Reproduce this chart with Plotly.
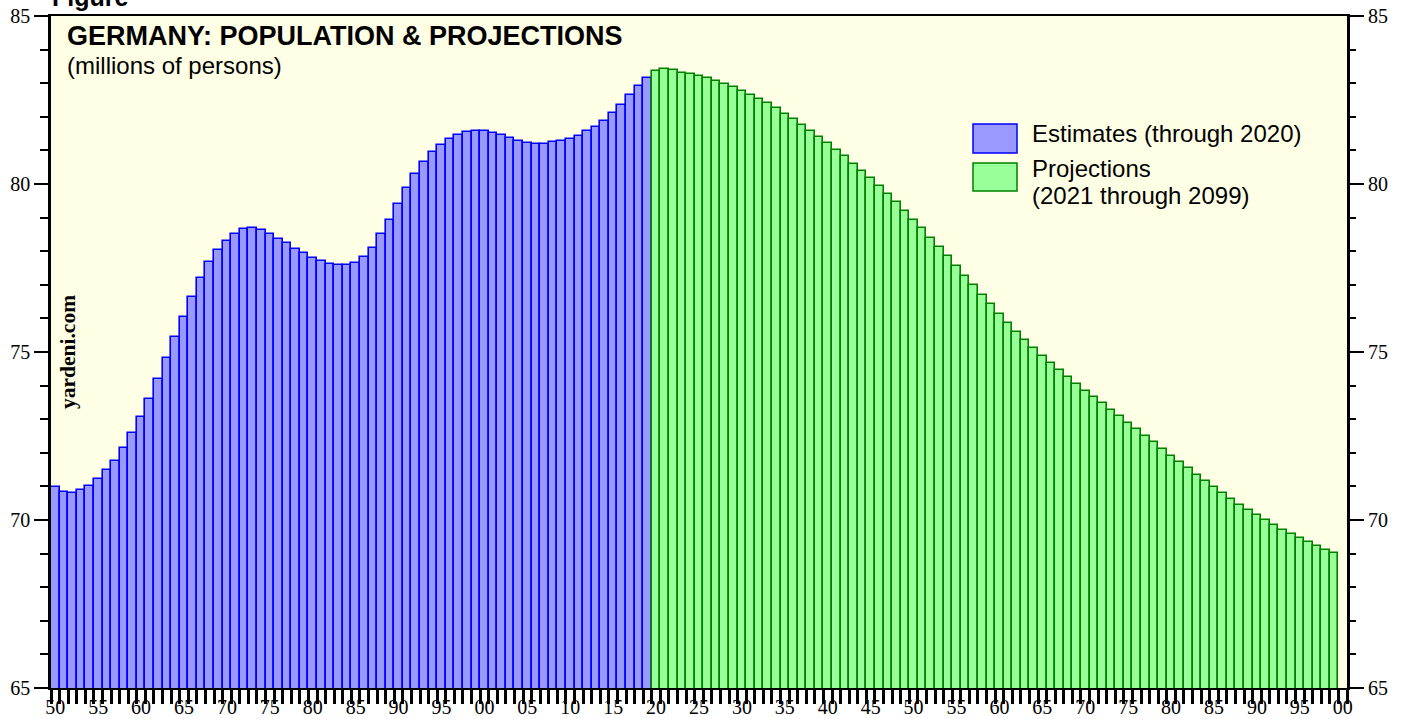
import plotly.graph_objects as go

# ---------------- data ----------------
est_years = list(range(1950, 2020))
est_values = [
    70.97, 70.82, 70.80, 70.88, 71.02, 71.22, 71.48, 71.77, 72.14, 72.59,
    73.07, 73.61, 74.20, 74.81, 75.44, 76.05, 76.63, 77.19, 77.67, 78.03,
    78.31, 78.52, 78.65, 78.68, 78.63, 78.52, 78.37, 78.24, 78.08, 77.95,
    77.81, 77.71, 77.63, 77.58, 77.58, 77.66, 77.82, 78.11, 78.50, 78.94,
    79.40, 79.88, 80.30, 80.65, 80.95, 81.15, 81.33, 81.46, 81.55, 81.58,
    81.58, 81.53, 81.46, 81.36, 81.28, 81.22, 81.19, 81.19, 81.24, 81.28,
    81.34, 81.43, 81.57, 81.70, 81.88, 82.10, 82.36, 82.65, 82.92, 83.16,
]
proj_years = list(range(2020, 2100))
proj_values = [
    83.35, 83.43, 83.39, 83.31, 83.27, 83.22, 83.16, 83.08, 82.99, 82.89,
    82.77, 82.66, 82.53, 82.40, 82.25, 82.09, 81.93, 81.76, 81.58, 81.40,
    81.21, 81.01, 80.82, 80.61, 80.40, 80.17, 79.94, 79.70, 79.46, 79.20,
    78.94, 78.68, 78.40, 78.12, 77.85, 77.56, 77.26, 76.98, 76.69, 76.42,
    76.14, 75.87, 75.61, 75.36, 75.11, 74.87, 74.66, 74.45, 74.25, 74.04,
    73.85, 73.66, 73.47, 73.28, 73.09, 72.89, 72.70, 72.50, 72.31, 72.11,
    71.91, 71.73, 71.54, 71.34, 71.15, 70.97, 70.79, 70.62, 70.45, 70.30,
    70.15, 70.00, 69.85, 69.71, 69.59, 69.46, 69.34, 69.24, 69.12, 69.03,
]
tick_years = list(range(1950, 2101, 5))
tick_labels = ["50", "55", "60", "65", "70", "75", "80", "85", "90", "95",
               "00", "05", "10", "15", "20", "25", "30", "35", "40", "45",
               "50", "55", "60", "65", "70", "75", "80", "85", "90", "95", "00"]
y_ticks = [65, 70, 75, 80, 85]

# ---------------- layout geometry (pixels) ----------------
W, H = 1408, 719
L, R, T, B = 51, 61, 16, 31
PW, PH = W - L - R, H - T - B

def px(x):
    return (x - L) / PW

def py(y):
    return (H - B - y) / PH

SANS = "Liberation Sans, Arial, sans-serif"
SERIF = "Liberation Serif, Times New Roman, serif"

fig = go.Figure()
fig.add_trace(go.Bar(
    x=est_years, y=est_values, width=1, yaxis="y",
    marker=dict(color="#9999FF", line=dict(color="#0000FF", width=1.6)),
    name="Estimates (through 2020)", showlegend=False,
))
fig.add_trace(go.Bar(
    x=proj_years, y=proj_values, width=1, yaxis="y2",
    marker=dict(color="#99FF99", line=dict(color="#008000", width=1.6)),
    name="Projections (2021 through 2099)", showlegend=False,
))

yminor = dict(tickmode="linear", tick0=65, dtick=1, ticks="outside",
              ticklen=8, tickwidth=2, tickcolor="black", showgrid=False)

fig.update_layout(
    template="none",
    width=W, height=H,
    margin=dict(l=L, r=R, t=T, b=B, pad=0, autoexpand=False),
    paper_bgcolor="white",
    plot_bgcolor="#FFFFE5",
    barmode="overlay",
    bargap=0,
    showlegend=False,
    xaxis=dict(
        range=[1949.5, 2100.5], automargin=False,
        tickmode="array", tickvals=tick_years, ticktext=tick_labels,
        ticks="", ticklabelstandoff=0,
        tickfont=dict(family=SERIF, size=20, color="black"),
        showgrid=False, zeroline=False,
        showline=True, linecolor="black", linewidth=2, mirror=True,
        minor=dict(tickmode="linear", tick0=1949.5, dtick=1, ticks="outside",
                   ticklen=14, tickwidth=2.5, tickcolor="black", showgrid=False),
    ),
    yaxis=dict(
        range=[65, 85], automargin=False,
        tickmode="array", tickvals=y_ticks,
        ticks="outside", ticklen=14, tickwidth=2, tickcolor="black",
        tickfont=dict(family=SERIF, size=20, color="black"),
        showgrid=False, zeroline=False,
        showline=True, linecolor="black", linewidth=2.5, mirror=True,
        minor=yminor,
    ),
    yaxis2=dict(
        range=[65, 85], overlaying="y", side="right", anchor="x", automargin=False,
        tickmode="array", tickvals=y_ticks,
        ticks="outside", ticklen=16, tickwidth=2, tickcolor="black",
        tickfont=dict(family=SERIF, size=20, color="black"),
        showgrid=False, zeroline=False, showline=False,
        minor=yminor,
    ),
)

annotations = [
    dict(text="<b>GERMANY: POPULATION & PROJECTIONS</b>", x=px(65), y=py(36),
         xanchor="left", yanchor="middle",
         font=dict(family=SANS, size=27, color="black")),
    dict(text="(millions of persons)", x=px(65), y=py(66),
         xanchor="left", yanchor="middle",
         font=dict(family=SANS, size=24, color="black")),
    dict(text="Estimates (through 2020)", x=px(1030), y=py(133),
         xanchor="left", yanchor="middle",
         font=dict(family=SANS, size=24, color="black")),
    dict(text="Projections", x=px(1030), y=py(169),
         xanchor="left", yanchor="middle",
         font=dict(family=SANS, size=24, color="black")),
    dict(text="(2021 through 2099)", x=px(1030), y=py(195),
         xanchor="left", yanchor="middle",
         font=dict(family=SANS, size=24, color="black")),
    dict(text="<b>yardeni.com</b>", x=px(68), y=py(352), textangle=-90,
         xanchor="center", yanchor="middle",
         font=dict(family=SERIF, size=21.5, color="black")),
]
for a in annotations:
    a.update(xref="paper", yref="paper", showarrow=False)
fig.update_layout(annotations=annotations)

fig.update_layout(title=dict(
    text="<b>Figure</b>", xref="container", yref="container",
    x=52 / W, y=1 - 6 / H, xanchor="left", yanchor="bottom",
    font=dict(family=SANS, size=25, color="black"), automargin=False,
))

shapes = [
    dict(type="rect", x0=px(973), x1=px(1017), y0=py(153), y1=py(124),
         fillcolor="#9999FF", line=dict(color="#0000FF", width=1.5)),
    dict(type="rect", x0=px(973), x1=px(1017), y0=py(191), y1=py(163),
         fillcolor="#99FF99", line=dict(color="#008000", width=1.5)),
]
for s in shapes:
    s.update(xref="paper", yref="paper")
fig.update_layout(shapes=shapes)

fig.write_html("out.html", config={"displayModeBar": False},
               post_script="document.body.style.margin='0';")
